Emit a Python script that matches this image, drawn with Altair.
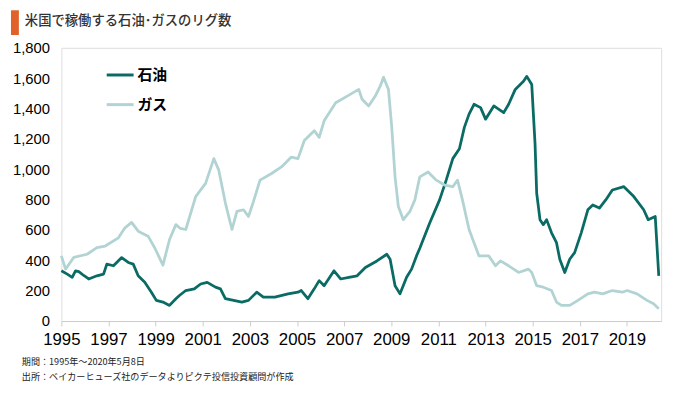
import altair as alt
import pandas as pd

oil_year = [1995.00,1995.25,1995.46,1995.60,1995.74,1995.95,1996.16,1996.51,1996.79,1996.93,1997.21,1997.56,1997.84,1998.05,1998.26,1998.54,1998.82,1999.03,1999.31,1999.59,1999.86,2000.01,2000.28,2000.64,2000.91,2001.19,2001.54,2001.75,2001.96,2002.31,2002.66,2002.94,2003.29,2003.57,2004.06,2004.62,2005.04,2005.18,2005.46,2005.73,2005.94,2006.15,2006.57,2006.85,2007.20,2007.55,2007.90,2008.39,2008.81,2008.95,2009.16,2009.37,2009.65,2009.86,2010.07,2010.21,2010.63,2011.05,2011.33,2011.61,2011.89,2012.10,2012.30,2012.51,2012.79,2013.00,2013.35,2013.77,2013.98,2014.26,2014.61,2014.75,2014.96,2015.10,2015.17,2015.31,2015.45,2015.59,2015.80,2016.01,2016.15,2016.36,2016.57,2016.78,2017.06,2017.34,2017.55,2017.83,2018.10,2018.38,2018.87,2019.29,2019.71,2019.90,2020.20,2020.35]
oil_rigs = [331,309,288,331,325,300,277,298,309,375,364,418,386,375,298,255,190,136,125,103,147,168,201,212,244,255,223,212,147,136,125,136,190,158,158,179,190,201,147,212,266,233,331,277,288,298,353,396,440,407,233,179,288,342,429,480,646,798,928,1070,1135,1276,1363,1428,1406,1330,1417,1373,1428,1526,1580,1612,1558,1167,842,668,635,668,581,516,407,320,407,451,581,733,765,744,798,863,885,820,733,668,689,298]

gas_year = [1995.00,1995.18,1995.53,1996.09,1996.51,1996.86,1997.42,1997.70,1997.98,1998.26,1998.68,1998.96,1999.31,1999.59,1999.86,2000.05,2000.28,2000.70,2001.12,2001.47,2001.68,2001.96,2002.24,2002.45,2002.73,2002.94,2003.15,2003.43,2003.92,2004.34,2004.76,2005.04,2005.31,2005.73,2005.94,2006.15,2006.64,2007.13,2007.62,2007.76,2008.04,2008.32,2008.53,2008.67,2008.88,2009.02,2009.16,2009.30,2009.51,2009.79,2010.00,2010.21,2010.56,2010.91,2011.26,2011.61,2011.81,2012.02,2012.30,2012.72,2013.14,2013.42,2013.63,2013.98,2014.40,2014.82,2014.96,2015.17,2015.45,2015.80,2016.01,2016.22,2016.57,2016.92,2017.34,2017.62,2017.97,2018.38,2018.80,2019.01,2019.43,2019.85,2020.13,2020.35]
gas_rigs = [429,342,420,440,483,494,548,614,650,592,559,483,368,537,635,610,603,820,907,1070,994,777,603,722,733,689,787,928,972,1015,1080,1070,1189,1254,1210,1319,1438,1482,1526,1461,1417,1482,1547,1606,1526,1276,950,754,668,722,798,950,982,928,896,885,928,798,603,429,429,364,396,364,320,342,320,233,223,201,125,103,103,136,179,190,179,201,190,201,179,136,114,81]

series_names = ["石油", "ガス"]
series_colors = ["#0a6b64", "#b2d3d3"]
x_ticks = list(range(1995, 2020, 2))
y_ticks = list(range(0, 1801, 200))

title_text = "米国で稼働する石油･ガスのリグ数"
note_period = "期間：1995年～2020年5月8日"
note_source = "出所：ベイカーヒューズ社のデータよりピクテ投信投資顧問が作成"

df = pd.concat([
    pd.DataFrame({"year": oil_year, "rigs": oil_rigs, "series": series_names[0]}),
    pd.DataFrame({"year": gas_year, "rigs": gas_rigs, "series": series_names[1]}),
])

W, H = 607, 276.5

lines = alt.Chart(df).mark_line(strokeWidth=2.8, strokeJoin="round").encode(
    x=alt.X("year:Q",
            scale=alt.Scale(domain=[1995, 2020.45], nice=False, zero=False),
            axis=alt.Axis(values=x_ticks, format="d", title=None, grid=False,
                          domainColor="#cccccc", tickColor="#cccccc", tickSize=5,
                          labelFont="Liberation Sans Narrow, Liberation Sans", labelFontSize=17,
                          labelColor="#000000", labelPadding=6, labelFlush=False)),
    y=alt.Y("rigs:Q",
            scale=alt.Scale(domain=[0, 1800], nice=False),
            axis=alt.Axis(values=y_ticks, format=",d", title=None, grid=False,
                          domain=False, ticks=False, labelFont="Liberation Sans",
                          labelFontSize=15, labelColor="#000000", labelPadding=12)),
    color=alt.Color("series:N",
                    scale=alt.Scale(domain=series_names, range=series_colors),
                    legend=alt.Legend(orient="none", legendX=44, legendY=12, title=None,
                                      symbolType="stroke", symbolSize=740, symbolStrokeWidth=3,
                                      labelFont="Noto Sans CJK JP", labelFontSize=15,
                                      labelFontWeight="bold", labelColor="#000000",
                                      rowPadding=6, labelOffset=2)),
    detail="series:N",
    order="year:Q",
)

bar = alt.Chart(pd.DataFrame({"k": [0]})).mark_rect(color="#e0622a").encode(
    x=alt.value(-51), x2=alt.value(-43), y=alt.value(-38), y2=alt.value(-13))

title = alt.Chart(pd.DataFrame({"t": [title_text]})).mark_text(
    align="left", baseline="middle", font="Noto Sans CJK JP", fontSize=13.5,
    color="#333333", fontWeight=500).encode(
    x=alt.value(-37), y=alt.value(-27), text="t:N")

note1 = alt.Chart(pd.DataFrame({"t": [note_period]})).mark_text(
    align="left", baseline="middle", font="Noto Sans CJK JP", fontSize=9.2,
    color="#222222").encode(x=alt.value(-40), y=alt.value(318), text="t:N")

note2 = alt.Chart(pd.DataFrame({"t": [note_source]})).mark_text(
    align="left", baseline="middle", font="Noto Sans CJK JP", fontSize=9.2,
    color="#222222").encode(x=alt.value(-40), y=alt.value(333), text="t:N")

chart = alt.layer(lines, bar, title, note1, note2).properties(
    width=W, height=H, autosize="none",
    padding={"left": 54, "top": 38, "right": 11, "bottom": 67},
).configure_view(stroke=None).configure(background="#ffffff")

chart.save("out.html", embed_options={"renderer": "svg", "actions": False})
